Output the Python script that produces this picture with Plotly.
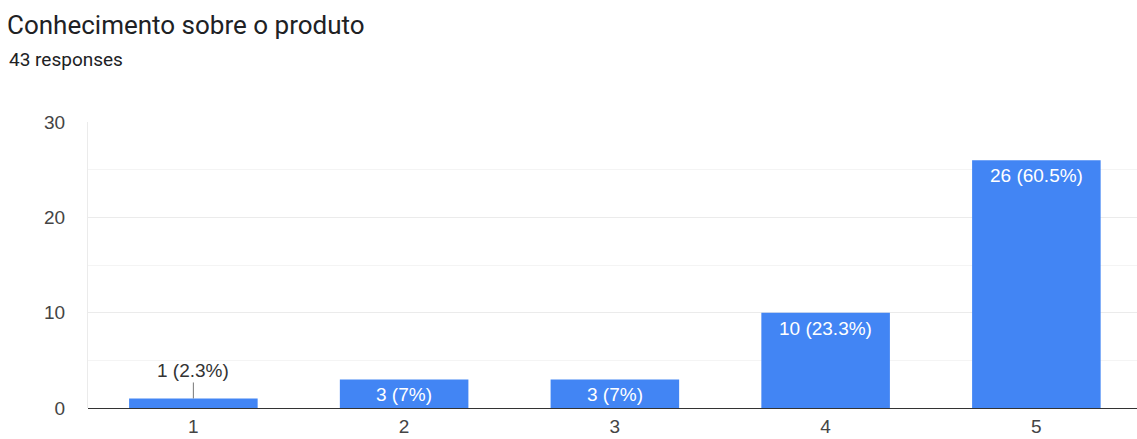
import plotly.graph_objects as go

# Survey answers: rating 1..5 and number of responses
categories = [1, 2, 3, 4, 5]
counts = [1, 3, 3, 10, 26]
percent_labels = ["2.3%", "7%", "7%", "23.3%", "60.5%"]
total_responses = 43

title_text = "Conhecimento sobre o produto"
subtitle_text = f"{total_responses} responses"

BAR_COLOR = "#4285F4"
HEAD_FONT = "Roboto, Arial, sans-serif"
CHART_FONT = "Arial, 'Liberation Sans', sans-serif"

W, H = 1137, 439
L, R, T, B = 88, 0, 122, 31
plot_w = W - L - R
plot_h = H - T - B

fig = go.Figure(
    go.Bar(
        x=categories,
        y=counts,
        width=0.61,
        marker=dict(color=BAR_COLOR, line=dict(width=0)),
        hoverinfo="skip",
    )
)

# Value labels: inside the bar near its top, or above it with a leader line
annotations = []
for cat, val, pct in zip(categories, counts, percent_labels):
    label = f"{val} ({pct})"
    if val >= 2:
        annotations.append(dict(
            x=cat, y=val, xref="x", yref="y", text=label, showarrow=False,
            yanchor="top", yshift=-3,
            font=dict(family=CHART_FONT, size=19, color="#ffffff"),
        ))
    else:
        annotations.append(dict(
            x=cat, y=val, xref="x", yref="y", text=label, showarrow=True,
            arrowhead=0, arrowwidth=1, arrowcolor="#777777", ax=0, ay=-28,
            standoff=0, startstandoff=0,
            font=dict(family=CHART_FONT, size=19, color="#333333"),
        ))

annotations.append(dict(
    text=subtitle_text, xref="paper", yref="paper",
    x=(8 - L) / plot_w, y=(H - B - 59) / plot_h,
    xanchor="left", yanchor="middle", showarrow=False, xshift=-1,
    font=dict(family=HEAD_FONT, size=19, color="#202124"),
))

fig.update_layout(
    width=W, height=H,
    margin=dict(l=L, r=R, t=T, b=B),
    paper_bgcolor="white", plot_bgcolor="white",
    showlegend=False,
    title=dict(
        text=title_text, xref="container", yref="container",
        x=7 / W, xanchor="left", y=1 - 25 / H, yanchor="middle",
        font=dict(family=HEAD_FONT, size=26, color="#202124"),
    ),
    annotations=annotations,
    xaxis=dict(
        range=[0.5, 0.5 + plot_w / 210.75],
        tickmode="array", tickvals=categories,
        ticktext=[str(c) for c in categories],
        showgrid=False, zeroline=False, showline=False,
        ticks="", ticklabelstandoff=5, automargin=False,
        tickfont=dict(family=CHART_FONT, size=19, color="#444444"),
        fixedrange=True,
    ),
    yaxis=dict(
        range=[0, 30], tickvals=[0, 10, 20, 30],
        showgrid=True, gridcolor="#ebebeb", gridwidth=1,
        minor=dict(dtick=5, showgrid=True, gridcolor="#f4f4f4", gridwidth=1),
        zeroline=True, zerolinecolor="#333333", zerolinewidth=1,
        showline=True, linecolor="#ebebeb", linewidth=1,
        ticks="", ticklabelstandoff=18, automargin=False,
        tickfont=dict(family=CHART_FONT, size=19, color="#444444"),
        fixedrange=True,
    ),
)

fig.write_html("out.html", config={"displayModeBar": False})
